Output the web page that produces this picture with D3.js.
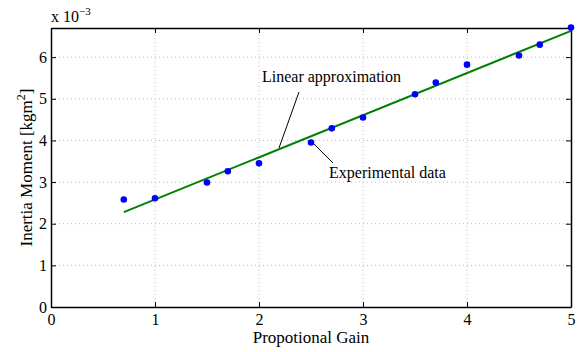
<!DOCTYPE html>
<html>
<head>
<meta charset="utf-8">
<script src="https://cdn.jsdelivr.net/npm/d3@7"></script>
<style>
  body { margin: 0; background: #fff; }
  text { font-family: "Liberation Serif", "Times New Roman", serif; fill: #000; }
</style>
</head>
<body>
<svg width="580" height="352"></svg>
<script>
// measured data (inertia in 1e-3 kgm^2)
const gains = [0.7, 1.0, 1.5, 1.7, 2.0, 2.5, 2.7, 3.0, 3.5, 3.7, 4.0, 4.5, 4.7, 5.0]
const inertia = [2.58, 2.61, 2.99, 3.26, 3.45, 3.95, 4.29, 4.55, 5.11, 5.39, 5.82, 6.04, 6.30, 6.71]
// linear approximation end points
const fitX = [0.7, 5.0]
const fitY = [2.28, 6.63]
const xTicks = [0, 1, 2, 3, 4, 5]
const yTicks = [0, 1, 2, 3, 4, 5, 6]

const svg = d3.select('svg')
const margin = {left: 51, right: 9, top: 28, bottom: 45}
const width = +svg.attr('width'), height = +svg.attr('height')

const x = d3.scaleLinear().domain([0, 5]).range([margin.left, width - margin.right])
const y = d3.scaleLinear().domain([0, 6.7]).range([height - margin.bottom, margin.top])

// grid
const grid = svg.append('g')
    .attr('stroke', '#bbb')
    .attr('stroke-dasharray', '1,3')
grid.selectAll('.gx').data(xTicks.slice(1, -1)).enter().append('line')
    .attr('x1', d => x(d)).attr('x2', d => x(d))
    .attr('y1', y(0)).attr('y2', y(6.7))
grid.selectAll('.gy').data(yTicks.slice(1)).enter().append('line')
    .attr('y1', d => y(d)).attr('y2', d => y(d))
    .attr('x1', x(0)).attr('x2', x(5))

// axes, ticks inward on all four sides
const fmt = d3.format('d')
const axB = svg.append('g').attr('transform', `translate(0,${y(0)})`)
    .call(d3.axisBottom(x).tickValues(xTicks).tickSizeInner(-5).tickSizeOuter(0).tickFormat(fmt))
const axT = svg.append('g').attr('transform', `translate(0,${y(6.7)})`)
    .call(d3.axisTop(x).tickValues(xTicks).tickSizeInner(-5).tickSizeOuter(0).tickFormat(''))
const axL = svg.append('g').attr('transform', `translate(${x(0)},0)`)
    .call(d3.axisLeft(y).tickValues(yTicks).tickSizeInner(-5).tickSizeOuter(0).tickPadding(4).tickFormat(fmt))
const axR = svg.append('g').attr('transform', `translate(${x(5)},0)`)
    .call(d3.axisRight(y).tickValues(yTicks).tickSizeInner(-5).tickSizeOuter(0).tickFormat(''))

for (const ax of [axB, axT, axL, axR]) {
    ax.select('.domain').attr('stroke', '#000').attr('stroke-width', 1.5)
    ax.selectAll('.tick line').attr('stroke', '#000')
    ax.selectAll('text').style('font-family', '"Liberation Serif", serif').attr('font-size', 16).attr('fill', '#000')
}
axB.selectAll('.tick text').attr('y', 18).attr('dy', 0)

// fit line
svg.append('line')
    .attr('x1', x(fitX[0])).attr('y1', y(fitY[0]))
    .attr('x2', x(fitX[1])).attr('y2', y(fitY[1]))
    .attr('stroke', '#008000').attr('stroke-width', 2)

// data points
svg.append('g').selectAll('circle')
    .data(gains.map((g, i) => [g, inertia[i]]))
    .enter().append('circle')
    .attr('cx', d => x(d[0])).attr('cy', d => y(d[1]))
    .attr('r', 3.3).attr('fill', '#0000ff')

// annotations
svg.append('line').attr('x1', 299).attr('y1', 92).attr('x2', 279).attr('y2', 148)
    .attr('stroke', '#000').attr('stroke-width', 1)
svg.append('text').attr('x', 262).attr('y', 82).attr('font-size', 16).text('Linear approximation')
svg.append('line').attr('x1', 313).attr('y1', 143).attr('x2', 333).attr('y2', 163)
    .attr('stroke', '#000').attr('stroke-width', 1)
svg.append('text').attr('x', 329).attr('y', 178).attr('font-size', 16).text('Experimental data')

// exponent label
const ex = svg.append('text').attr('x', 51).attr('y', 22).attr('font-size', 16)
ex.append('tspan').text('x 10')
ex.append('tspan').attr('dy', -7).attr('font-size', 11).text('−3')

// axis labels
svg.append('text').attr('x', (x(0) + x(5)) / 2).attr('y', 343)
    .attr('text-anchor', 'middle').attr('font-size', 17).text('Propotional Gain')
const yl = svg.append('text').attr('transform', `translate(32,${(y(0) + y(6.7)) / 2}) rotate(-90)`)
    .attr('text-anchor', 'middle').attr('font-size', 17)
yl.append('tspan').text('Inertia Moment [kgm')
yl.append('tspan').attr('dy', -7).attr('font-size', 12).text('2')
yl.append('tspan').attr('dy', 7).text(']')
</script>
</body>
</html>
